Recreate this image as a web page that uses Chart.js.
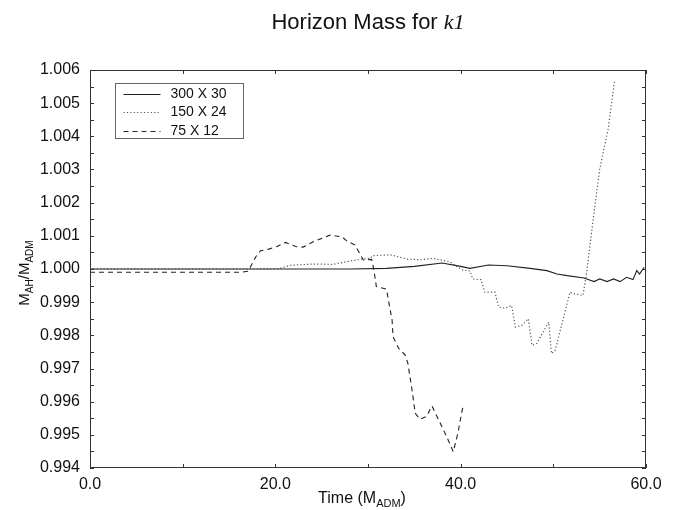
<!DOCTYPE html>
<html>
<head>
<meta charset="utf-8">
<title>Horizon Mass for k1</title>
<script src="https://cdn.jsdelivr.net/npm/chart.js@4.4.1/dist/chart.umd.min.js"></script>
<style>
  html, body { margin: 0; padding: 0; background: #fff; }
  #wrap { width: 673px; height: 510px; }
</style>
</head>
<body>
<div id="wrap"><canvas id="chart" width="673" height="510"></canvas></div>
<script>
// Serie 300 X 30 (línea continua)
const t300 = [0, 10, 20, 28, 32, 35, 38, 40, 41, 43, 45, 47.5, 49.3, 50.4, 51.5, 53.3, 54.4, 55.0, 55.8, 56.5, 57.2, 57.9, 58.6, 59.0, 59.3, 59.8];
const m300 = [1.0000, 1.0000, 1.0000, 1.0000, 1.00002, 1.00008, 1.00018, 1.00008, 1.00002, 1.00012, 1.0001, 1.00002, 0.99995, 0.99985, 0.9998, 0.99973, 0.99962, 0.9997, 0.99962, 0.9997, 0.99962, 0.99975, 0.99968, 0.99995, 0.99985, 1.00005];

// Serie 150 X 24 (punteada)
const t150 = [0, 10, 20, 20.5, 21.6, 24.1, 26.2, 27.7, 29.3, 30.2, 30.5, 32.4, 34.2, 35.6, 37.0, 38.8, 40.2, 41.0, 41.3, 42.2, 42.6, 43.7, 44.1, 44.8, 45.5, 45.9, 46.6, 47.3, 47.7, 48.2, 49.5, 49.8, 50.2, 51.8, 52.3, 53.2, 53.6, 54.3, 55.0, 55.9, 56.6];
const m150 = [1.0000, 1.0000, 1.0000, 1.00002, 1.00011, 1.00015, 1.00014, 1.00022, 1.0003, 1.00032, 1.0004, 1.00043, 1.0003, 1.00028, 1.00032, 1.00022, 0.99997, 0.99994, 0.9997, 0.99968, 0.9993, 0.9993, 0.99885, 0.99882, 0.9989, 0.99825, 0.9983, 0.9985, 0.9977, 0.99775, 0.9984, 0.99745, 0.99755, 0.9993, 0.99925, 0.9992, 0.9999, 1.0015, 1.003, 1.0042, 1.00565];

// Serie 75 X 12 (discontinua)
const t75 = [0, 8, 16.2, 17.0, 17.2, 17.9, 18.4, 19.3, 20.2, 21.1, 22.3, 23.0, 24.1, 25.9, 27.2, 27.7, 28.6, 29.1, 29.5, 30.4, 30.6, 30.8, 30.9, 32.0, 32.2, 32.6, 32.7, 33.3, 34.0, 34.3, 34.7, 35.1, 35.6, 36.3, 36.9, 37.8, 38.5, 39.2, 39.7, 40.1, 40.3];
const m75 = [0.9999, 0.9999, 0.9999, 0.99993, 1.0000, 1.00037, 1.00055, 1.0006, 1.00068, 1.0008, 1.00067, 1.00066, 1.00082, 1.00102, 1.00097, 1.00085, 1.00072, 1.00047, 1.00027, 1.00029, 1.00002, 0.99967, 0.99947, 0.99939, 0.99906, 0.99846, 0.99796, 0.99761, 0.99741, 0.99716, 0.99645, 0.99565, 0.99547, 0.99555, 0.99587, 0.99535, 0.99494, 0.99449, 0.99505, 0.99565, 0.99593];

const seriesLabels = ['300 X 30', '150 X 24', '75 X 12'];

// Ejes
const xMin = 0, xMax = 60, xStep = 10, xLabelEvery = 20;
const yMin = 0.994, yMax = 1.006, yStep = 0.0005;

const SANS = '"Liberation Sans", Arial, Helvetica, sans-serif';
const SERIF = '"Liberation Serif", "Times New Roman", serif';

function toPoints(xs, ys) {
    return xs.map((x, i) => ({ x: x, y: ys[i] }));
}

// Marco, marcas hacia dentro, títulos con subíndices y leyenda
const decorPlugin = {
    id: 'decor',
    afterDraw(chart) {
        const ctx = chart.ctx;
        const a = chart.chartArea;
        const xs = chart.scales.x;
        const ys = chart.scales.y;

        ctx.save();
        // marco
        ctx.strokeStyle = '#333';
        ctx.lineWidth = 1;
        ctx.strokeRect(Math.round(a.left) + 0.5, Math.round(a.top) + 0.5,
                       Math.round(a.right - a.left) - 1, Math.round(a.bottom - a.top) - 1);

        // marcas
        const tl = 4;
        ctx.beginPath();
        xs.ticks.forEach(tk => {
            const px = Math.round(xs.getPixelForValue(tk.value)) + 0.5;
            ctx.moveTo(px, a.bottom); ctx.lineTo(px, a.bottom - tl);
            ctx.moveTo(px, a.top); ctx.lineTo(px, a.top + tl);
        });
        ys.ticks.forEach(tk => {
            const py = Math.round(ys.getPixelForValue(tk.value)) + 0.5;
            ctx.moveTo(a.left, py); ctx.lineTo(a.left + tl, py);
            ctx.moveTo(a.right, py); ctx.lineTo(a.right - tl, py);
        });
        ctx.stroke();

        ctx.fillStyle = '#111';
        ctx.textBaseline = 'alphabetic';

        // título
        const cx = (a.left + a.right) / 2;
        ctx.font = '22px ' + SANS;
        const t1 = 'Horizon Mass for ';
        const w1 = ctx.measureText(t1).width;
        ctx.font = 'italic 22px ' + SERIF;
        const t2 = 'k1';
        const w2 = ctx.measureText(t2).width;
        let sx = cx - (w1 + w2) / 2;
        ctx.font = '22px ' + SANS;
        ctx.textAlign = 'left';
        ctx.fillText(t1, sx, 29);
        ctx.font = 'italic 22px ' + SERIF;
        ctx.fillText(t2, sx + w1, 29);

        // texto con subíndices
        function subText(parts, x, y, size) {
            const sub = Math.round(size * 0.68);
            const widths = parts.map(p => {
                ctx.font = (p.sub ? sub : size) + 'px ' + SANS;
                return ctx.measureText(p.t).width;
            });
            const total = widths.reduce((s, w) => s + w, 0);
            let px = x - total / 2;
            parts.forEach((p, i) => {
                ctx.font = (p.sub ? sub : size) + 'px ' + SANS;
                ctx.fillText(p.t, px, y + (p.sub ? 4 : 0));
                px += widths[i];
            });
        }

        ctx.textAlign = 'left';
        subText([{ t: 'Time (M' }, { t: 'ADM', sub: true }, { t: ')' }], cx - 6, 503, 16);

        ctx.save();
        ctx.translate(29, (a.top + a.bottom) / 2 + 4);
        ctx.rotate(-Math.PI / 2);
        subText([{ t: 'M' }, { t: 'AH', sub: true }, { t: '/M' }, { t: 'ADM', sub: true }], 0, 0, 15);
        ctx.restore();

        // leyenda
        const lx = 115.5, ly = 83.5, lw = 128, lh = 55;
        ctx.strokeStyle = '#666';
        ctx.lineWidth = 1;
        ctx.setLineDash([]);
        ctx.strokeRect(lx, ly, lw, lh);
        ctx.font = '14px ' + SANS;
        ctx.textBaseline = 'middle';
        chart.data.datasets.forEach((ds, i) => {
            const ry = Math.round(ly + 10 + i * 18.7) + 0.5;
            ctx.beginPath();
            ctx.strokeStyle = ds.borderColor;
            ctx.lineWidth = ds.borderWidth;
            ctx.setLineDash(ds.borderDash || []);
            ctx.moveTo(lx + 8, ry);
            ctx.lineTo(lx + 45, ry);
            ctx.stroke();
            ctx.fillStyle = '#111';
            ctx.fillText(ds.label, lx + 55, ry);
        });
        ctx.restore();
    }
};

const ctx = document.getElementById('chart').getContext('2d');

new Chart(ctx, {
    type: 'line',
    data: {
        datasets: [
            {
                label: seriesLabels[0],
                data: toPoints(t300, m300),
                borderColor: '#222',
                borderWidth: 1.1,
                borderDash: [],
                pointRadius: 0,
                tension: 0,
                fill: false
            },
            {
                label: seriesLabels[1],
                data: toPoints(t150, m150),
                borderColor: '#555',
                borderWidth: 1.2,
                borderDash: [1.2, 2.2],
                pointRadius: 0,
                tension: 0,
                fill: false
            },
            {
                label: seriesLabels[2],
                data: toPoints(t75, m75),
                borderColor: '#222',
                borderWidth: 1.1,
                borderDash: [5, 4],
                pointRadius: 0,
                tension: 0,
                fill: false
            }
        ]
    },
    options: {
        responsive: false,
        animation: false,
        layout: { padding: { top: 70, right: 27, left: 0, bottom: 0 } },
        plugins: {
            legend: { display: false },
            title: { display: false },
            tooltip: { enabled: false }
        },
        scales: {
            x: {
                type: 'linear',
                min: xMin,
                max: xMax,
                border: { display: false },
                grid: { display: false, drawTicks: false },
                afterFit(scale) { scale.height = 42; },
                ticks: {
                    stepSize: xStep,
                    autoSkip: false,
                    maxRotation: 0,
                    padding: 7,
                    color: '#111',
                    font: { family: SANS, size: 16 },
                    callback: function(value) {
                        return value % xLabelEvery === 0 ? value.toFixed(1) : '';
                    }
                }
            },
            y: {
                type: 'linear',
                min: yMin,
                max: yMax,
                border: { display: false },
                grid: { display: false, drawTicks: false },
                afterFit(scale) { scale.width = 90; },
                ticks: {
                    stepSize: yStep,
                    autoSkip: false,
                    padding: 10,
                    color: '#111',
                    font: { family: SANS, size: 16 },
                    callback: function(value) {
                        const k = Math.round(value * 10000);
                        return k % 10 === 0 ? value.toFixed(3) : '';
                    }
                }
            }
        }
    },
    plugins: [decorPlugin]
});
</script>
</body>
</html>
